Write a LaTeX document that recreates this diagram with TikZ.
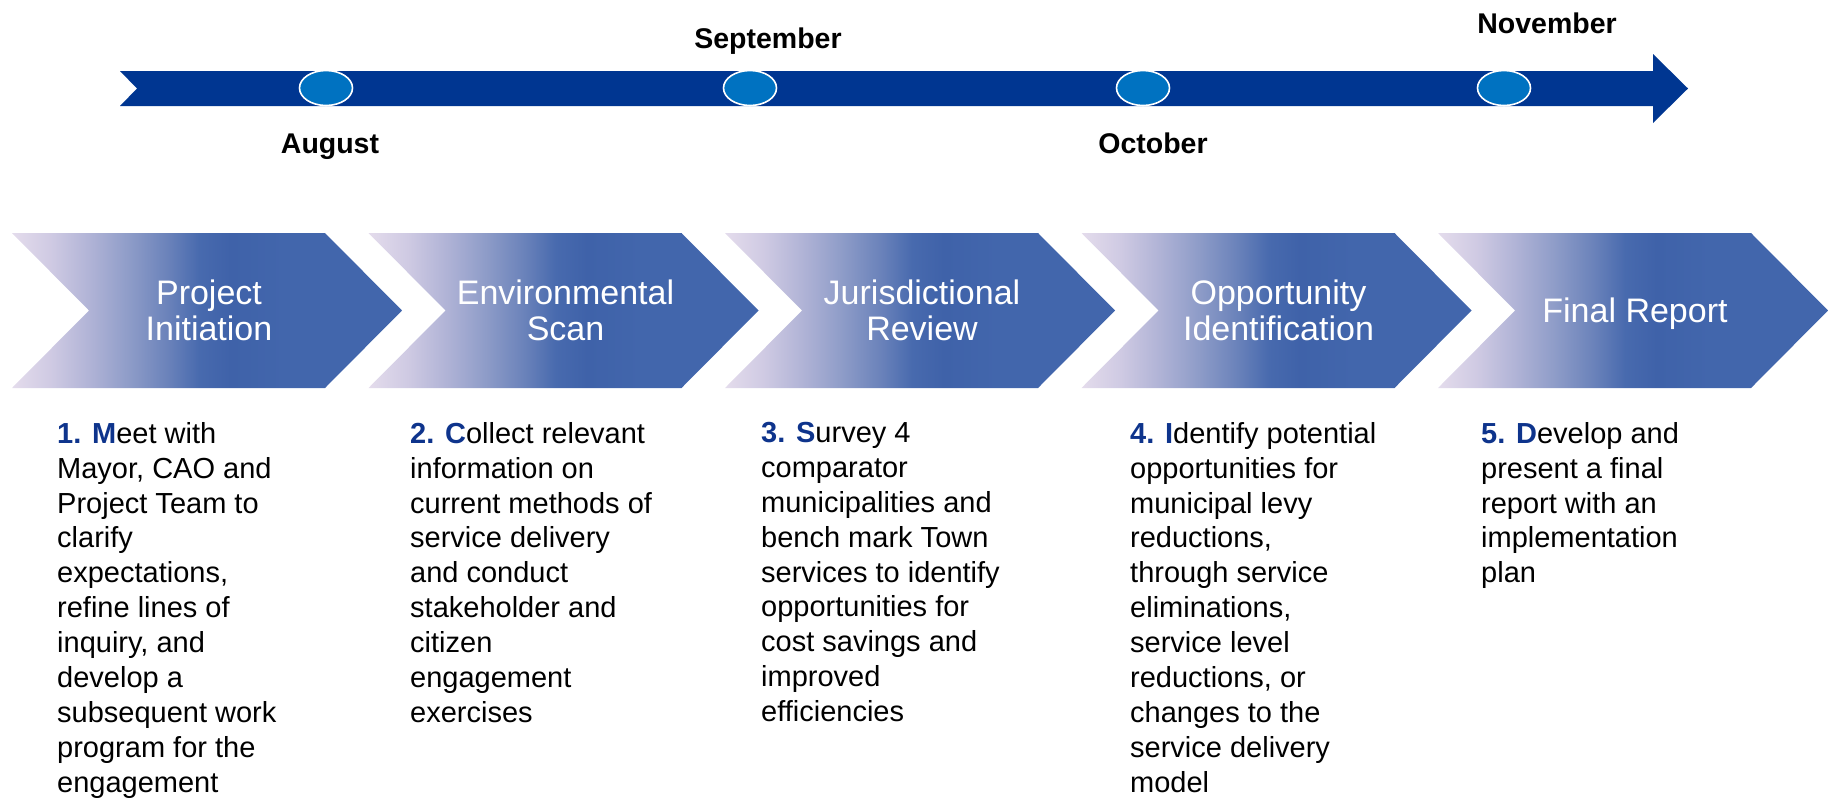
\documentclass[tikz,border=0pt]{standalone}
\usepackage{fontspec}
\setmainfont{Liberation Sans}
\usetikzlibrary{shapes.geometric}

% palette
\definecolor{barblue}{RGB}{0,54,145}
\definecolor{dotblue}{RGB}{0,114,193}
\definecolor{numblue}{RGB}{14,52,140}
\definecolor{chevlav}{RGB}{228,220,236}
\definecolor{chevA}{RGB}{207,202,227}
\definecolor{chevB}{RGB}{176,179,214}
\definecolor{chevC}{RGB}{142,156,200}
\definecolor{chevD}{RGB}{106,130,186}
\definecolor{chevE}{RGB}{72,106,174}
\definecolor{chevF}{RGB}{63,98,169}
\definecolor{chevblue}{RGB}{66,102,172}

% left-to-right fade of the phase chevrons (path spans 25bp..75bp)
\pgfdeclarehorizontalshading{chevshade}{100bp}{%
  color(0bp)=(chevlav); color(25bp)=(chevlav); color(30bp)=(chevA);
  color(35bp)=(chevB); color(40bp)=(chevC); color(45bp)=(chevD);
  color(49bp)=(chevE); color(53bp)=(chevF); color(60bp)=(chevblue);
  color(100bp)=(chevblue)}

% chevron outline with its left edge at x = #1
\newcommand\chevronpath[1]{(#1,233) -- ++(313,0) -- ++(77,77.5) -- ++(-77,77.5) -- ++(-313,0) -- ++(77,-77.5) -- cycle}
% coloured lead-in of each task description
\newcommand\stepnum[1]{\textcolor{numblue}{\bfseries #1}}

\begin{document}
\begin{tikzpicture}[x=1pt,y=-1pt,
  month/.style={font=\fontsize{28.5}{34}\selectfont\bfseries, anchor=base, inner sep=0pt},
  dot/.style={ellipse, fill=dotblue, draw=white, line width=1.6pt,
    minimum width=53pt, minimum height=35pt, inner sep=0pt},
  chevtext/.style={font=\fontsize{34}{36}\selectfont, text=white, align=center, inner sep=0pt},
  desc/.style={font=\fontsize{29}{34.9}\selectfont, align=left, anchor=north west, inner sep=0pt}
]
\useasboundingbox (0,0) rectangle (1829,801);

% timeline arrow
\fill[barblue] (120,71) -- (1653,71) -- (1653,54) -- (1688,88.5) -- (1653,123)
  -- (1653,106) -- (120,106) -- (137,88.5) -- cycle;

% milestones
\node[dot] (mAug) at (326,88) {};
\node[dot] (mSep) at (750,88) {};
\node[dot] (mOct) at (1143,88) {};
\node[dot] (mNov) at (1504,88) {};

\node[month] (lAug) at (330,153) {August};
\node[month] (lSep) at (768,48) {September};
\node[month] (lOct) at (1153,153) {October};
\node[month] (lNov) at (1547,33) {November};

% phase chevrons
\shade[shading=chevshade] \chevronpath{12};
\shade[shading=chevshade] \chevronpath{368.5};
\shade[shading=chevshade] \chevronpath{725};
\shade[shading=chevshade] \chevronpath{1081.5};
\shade[shading=chevshade] \chevronpath{1438};

\node[chevtext] (p1) at (209,310.5) {Project\\Initiation};
\node[chevtext] (p2) at (565.5,310.5) {Environmental\\Scan};
\node[chevtext] (p3) at (922,310.5) {Jurisdictional\\Review};
\node[chevtext] (p4) at (1278.5,310.5) {Opportunity\\Identification};
\node[chevtext, text depth=0pt] (p5) at (1635,310.5) {Final Report};

% task descriptions
\node[desc] (t1) at (57,422) {\stepnum{1. M}eet with\\Mayor, CAO and\\Project Team to\\clarify\\expectations,\\refine lines of\\inquiry, and\\develop a\\subsequent work\\program for the\\engagement};
\node[desc] (t2) at (410,422) {\stepnum{2. C}ollect relevant\\information on\\current methods of\\service delivery\\and conduct\\stakeholder and\\citizen\\engagement\\exercises};
\node[desc] (t3) at (761,422) {\stepnum{3. S}urvey 4\\comparator\\municipalities and\\bench mark Town\\services to identify\\opportunities for\\cost savings and\\improved\\efficiencies};
\node[desc] (t4) at (1130,422) {\stepnum{4. I}dentify potential\\opportunities for\\municipal levy\\reductions,\\through service\\eliminations,\\service level\\reductions, or\\changes to the\\service delivery\\model};
\node[desc] (t5) at (1481,422) {\stepnum{5. D}evelop and\\present a final\\report with an\\implementation\\plan};
\end{tikzpicture}
\end{document}
